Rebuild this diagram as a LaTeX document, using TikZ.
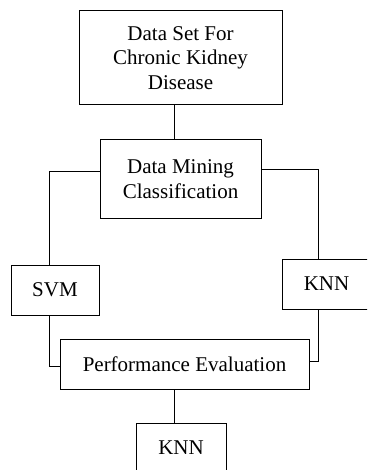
\documentclass[tikz,border=0pt]{standalone}
\usepackage{fontspec}
\setmainfont{Liberation Serif}
\begin{document}
\begin{tikzpicture}[x=1pt,y=-1pt,
  box/.style={draw,line width=1pt,inner sep=0pt,align=center,
    font=\fontsize{21}{24.5}\selectfont},
  link/.style={line width=1pt}]
\clip (0,0) rectangle (367,470);
\node[box,minimum width=203pt,minimum height=94pt] (ds) at (180.5,58) {Data Set For\\Chronic Kidney\\Disease};
\node[box,minimum width=161pt,minimum height=78pt] (dm) at (180.5,179) {Data Mining\\Classification};
\node[box,minimum width=88pt,minimum height=50pt] (svm) at (55,290) {SVM};
\node[box,minimum width=89pt,minimum height=50pt] (knna) at (326.5,284) {KNN};
\node[box,minimum width=249pt,minimum height=50pt] (pe) at (184.5,364) {Performance Evaluation};
\node[box,minimum width=90pt,minimum height=49pt] (knnb) at (181,447.5) {KNN};
\draw[link] ([xshift=-6.5pt]ds.south) -- ([xshift=-6.5pt]dm.north);
\draw[link] ([yshift=7pt]dm.west) -| ([xshift=-6pt]svm.north);
\draw[link] ([yshift=9pt]dm.east) -| ([xshift=-8.5pt]knna.north);
\draw[link] ([xshift=-6pt]svm.south) |- ([yshift=-2pt]pe.west);
\draw[link] ([xshift=-8.5pt]knna.south) |- ([yshift=3pt]pe.east);
\draw[link] ([xshift=-7pt]knnb.north |- pe.south) -- ([xshift=-7pt]knnb.north);
\end{tikzpicture}
\end{document}
